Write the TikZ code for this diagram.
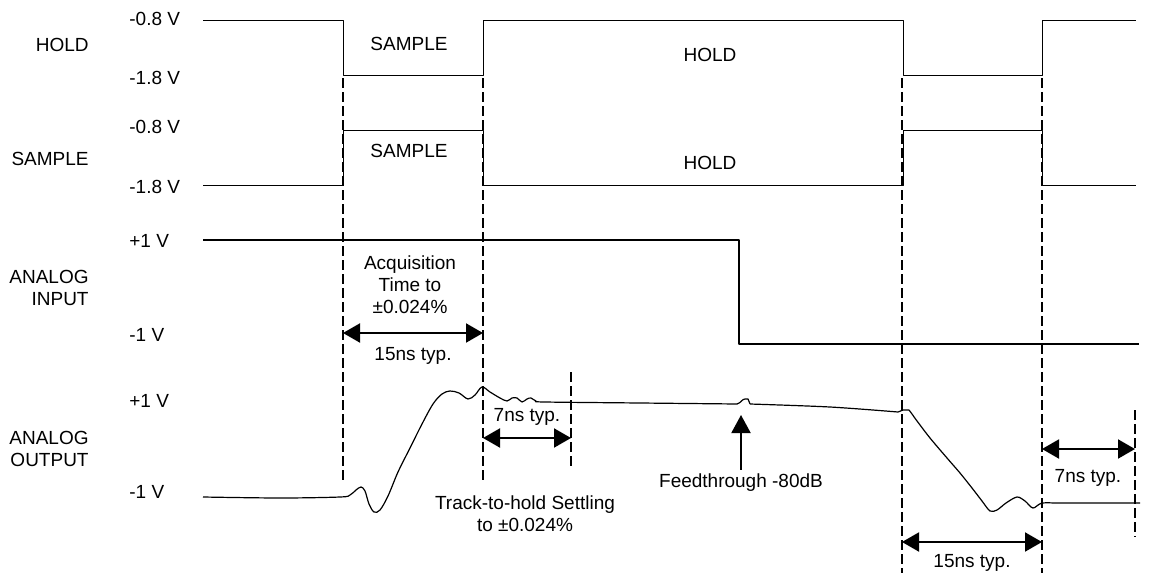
\documentclass[tikz,border=0pt]{standalone}
\usepackage{fontspec}
\setmainfont{Liberation Sans}
\usetikzlibrary{arrows.meta}

\begin{document}
\begin{tikzpicture}[x=0.5pt, y=-0.5pt, font=\fontsize{9.5}{11}\selectfont, line join=round,
    lbl/.style={inner sep=0pt, align=center},
    trace/.style={line width=0.5pt},
    thicktrace/.style={line width=1pt},
    marker/.style={line width=1pt, dash pattern=on 4.75pt off 2.25pt},
    dimarrow/.style={line width=1pt, {Triangle[length=8.5pt,width=9.5pt]}-{Triangle[length=8.5pt,width=9.5pt]}},
    tiparrow/.style={line width=1pt, -{Triangle[length=9pt,width=9.5pt]}}]
    \useasboundingbox (0,0) rectangle (1151,573);

    % signal names and levels
    \node[lbl, anchor=east] (holdname) at (89,45) {HOLD};
    \node[lbl, anchor=east] (samplename) at (89,159) {SAMPLE};
    \node[lbl, anchor=east, align=right] (inname) at (89,288) {ANALOG\\INPUT};
    \node[lbl, anchor=east, align=right] (outname) at (89,449) {ANALOG\\OUTPUT};
    \foreach \y/\txt/\nm in {
        19/-0.8 V/hHi, 78/-1.8 V/hLo,
        127/-0.8 V/sHi, 187/-1.8 V/sLo,
        241/+1 V/iHi, 335/-1 V/iLo,
        401/+1 V/oHi, 492/-1 V/oLo}
    {
        \node[lbl, anchor=west] (lv\nm) at (129,\y) {\txt};
    }

    % logic traces
    \draw[trace] (203,20) -- (343,20) -- (343,75) -- (483,75) -- (483,20) -- (903,20)
        -- (903,75) -- (1042,75) -- (1042,20) -- (1136,20);
    \draw[trace] (203,185) -- (343,185) -- (343,130) -- (483,130) -- (483,185) -- (903,185)
        -- (903,130) -- (1042,130) -- (1042,185) -- (1136,185);
    \node[lbl] (hsample) at (409,44) {SAMPLE};
    \node[lbl] (hhold) at (710,55) {HOLD};
    \node[lbl] (ssample) at (409,151) {SAMPLE};
    \node[lbl] (shold) at (710,163) {HOLD};

    % analog input
    \draw[thicktrace] (203,240) -- (739,240) -- (739,344) -- (1139,344);

    % analog output
    \draw[trace, line width=0.6pt] plot[smooth, tension=0.55] coordinates {
        (203,497) (280,498) (340,497) (350,495) (356,490) (361,487) (365,491) (369,504)
        (374,512) (380,510) (388,496) (398,472) (410,448) (422,424) (433,404) (442,394)
        (450,391) (459,393) (468,399) (475,395) (482,387) (490,392) (500,398) (507,401)
        (512,398) (517,398) (522,402) (527,399) (531,398) (536,401) (545,402) (640,403)
        (737,404)};
    \draw[trace, line width=0.6pt] (737,404) .. controls (741,403) and (742,399) .. (745,399)
        -- (748,399) -- (750,404);
    \draw[trace, line width=0.6pt] plot[smooth, tension=0.5] coordinates {(750,404) (830,407) (898,412)}
        -- (903,410) -- (909,410);
    \draw[trace, line width=0.6pt] plot[smooth, tension=0.5] coordinates {
        (909,410) (912,414) (917,421) (930,438) (947,458) (960,473) (972,488) (982,501)
        (990,511) (997,510) (1006,503) (1017,497) (1025,501) (1033,508) (1042,503)
        (1060,503) (1140,503)};

    % timing markers
    \foreach \x/\ya/\yb/\nm in {343/78/482/a, 483/78/482/b, 571/372/470/c,
        902/78/573/d, 1042/78/573/e, 1135/410/537/f}
    {
        \coordinate (mk\nm-t) at (\x,\ya);
        \coordinate (mk\nm-b) at (\x,\yb);
        \draw[marker] (mk\nm-t) -- (mk\nm-b);
    }

    % intervals
    \coordinate (acqL) at (343,333);
    \coordinate (acqR) at (483,333);
    \draw[dimarrow] (acqL) -- (acqR);
    \node[lbl] (acqtext) at (410,285) {Acquisition\\Time to\\±0.024\%};
    \node[lbl] (acqtyp) at (413,356) {15ns typ.};

    \coordinate (setL) at (483,438);
    \coordinate (setR) at (571,438);
    \draw[dimarrow] (setL) -- (setR);
    \node[lbl] (settyp) at (527,417) {7ns typ.};
    \node[lbl] (settext) at (525,514) {Track-to-hold Settling\\to ±0.024\%};

    \coordinate (ftTip) at (741,415);
    \node[lbl] (fttext) at (741,483) {Feedthrough -80dB};
    \draw[tiparrow] ([yshift=2pt]fttext.north) -- (ftTip);

    \coordinate (dropL) at (902,542);
    \coordinate (dropR) at (1042,542);
    \draw[dimarrow] (dropL) -- (dropR);
    \node[lbl] (droptyp) at (972,563) {15ns typ.};

    \coordinate (recL) at (1042,449);
    \coordinate (recR) at (1135,449);
    \draw[dimarrow] (recL) -- (recR);
    \node[lbl] (rectyp) at (1088,478) {7ns typ.};
\end{tikzpicture}
\end{document}
